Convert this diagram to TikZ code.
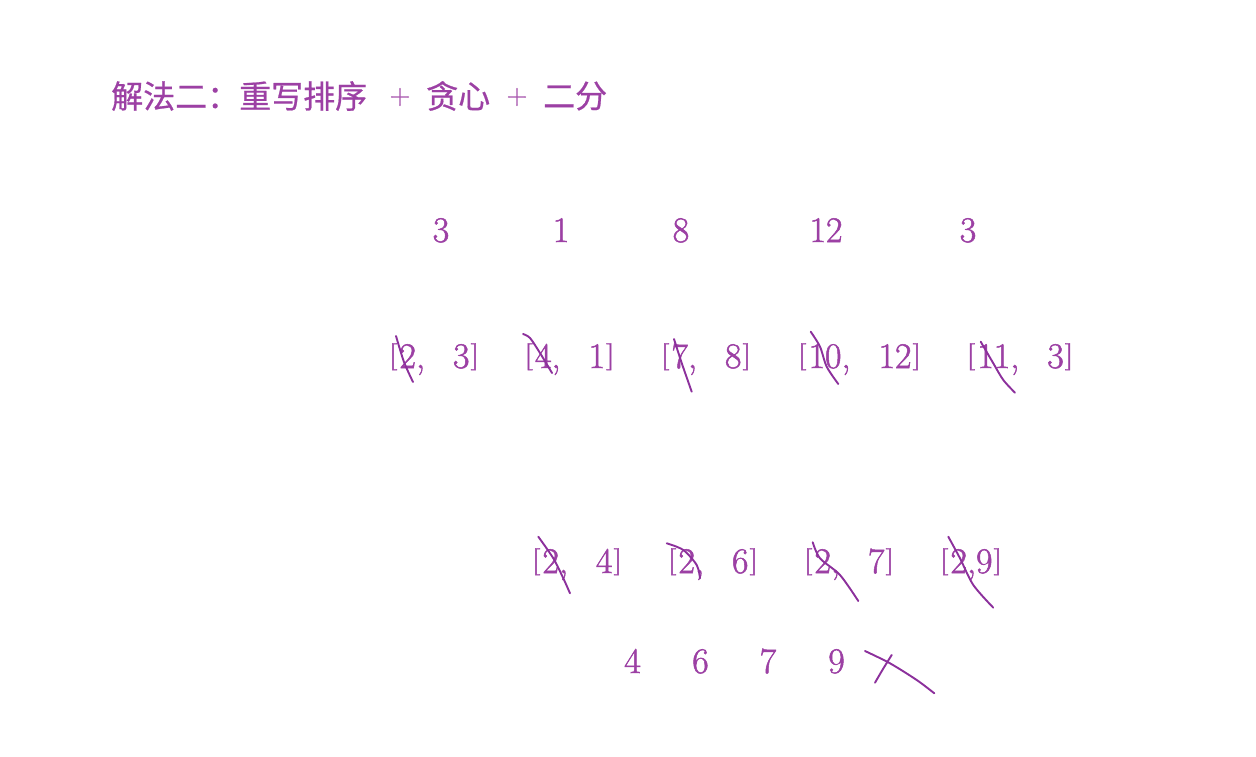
\documentclass[tikz,border=0pt]{standalone}
\usepackage{graphicx}
\usepackage{fontspec}
\newfontfamily\cjk[FakeBold=0.6]{Noto Sans CJK SC}
\newfontfamily\numf[FakeBold=1.4]{Latin Modern Roman}
\definecolor{txt}{RGB}{156,64,164}
\definecolor{inkc}{RGB}{140,48,156}
\newcommand\lbk{\raisebox{4.5pt}{\scalebox{1}[0.75]{[}}\hspace{2pt}}
\newcommand\rbk{\hspace{1pt}\raisebox{4.5pt}{\scalebox{1}[0.75]{]}}}
\newcommand\ivl[2]{\lbk#1,\hspace{28pt}#2\rbk}
\tikzset{
  num/.style={text=txt, font=\numf\fontsize{36}{40}\selectfont, inner sep=0pt, anchor=base},
  ttl/.style={text=txt, font=\cjk\fontsize{32}{36}\selectfont, inner sep=0pt, anchor=west},
  plus/.style={text=txt, font=\numf\fontsize{28}{32}\selectfont, inner sep=0pt},
  strike/.style={draw=inkc, line width=1.9pt, line cap=round, line join=round}
}
\begin{document}
\begin{tikzpicture}[x=1pt,y=-1pt]
\fill[white] (0,0) rectangle (1256,757);
\useasboundingbox (0,0) rectangle (1256,757);
% title
\node[ttl] (h1) at (111,96) {解法二：重写排序};
\node[plus] (p1) at (400,97) {+};
\node[ttl] (h2) at (426,96) {贪心};
\node[plus] (p2) at (517,97) {+};
\node[ttl] (h3) at (543,96) {二分};
% top row
\node[num] (t1) at (441,242) {3};
\node[num] (t2) at (561,242) {1};
\node[num] (t3) at (681,242) {8};
\node[num] (t4) at (826,242) {12};
\node[num] (t5) at (968,242) {3};
% intervals row
\node[num] (a1) at (434,368) {\ivl{2}{3}};
\node[num] (a2) at (569.5,368) {\ivl{4}{1}};
\node[num] (a3) at (706,368) {\ivl{7}{8}};
\node[num] (a4) at (859.5,368) {\ivl{10}{12}};
\node[num] (a5) at (1020,368) {\ivl{11}{3}};
% second intervals row
\node[num] (b1) at (577,573) {\ivl{2}{4}};
\node[num] (b2) at (713,573) {\ivl{2}{6}};
\node[num] (b3) at (849,573) {\ivl{2}{7}};
\node[num] (b4) at (971,573) {\lbk2,\hspace{0pt}9\rbk};
% bottom row
\node[num] (c1) at (632.5,673) {4};
\node[num] (c2) at (700.5,673) {6};
\node[num] (c3) at (768,673) {7};
\node[num] (c4) at (836.5,673) {9};
% hand strokes
\draw[strike] plot[smooth] coordinates {(396,336) (404,362) (413,382)};
\draw[strike] plot[smooth] coordinates {(523,334) (530,338) (540,353) (552,373)};
\draw[strike] plot[smooth] coordinates {(674,339) (681.7,363) (691.7,391.7)};
\draw[strike] plot[smooth] coordinates {(810.7,331.7) (820,346.7) (826.7,366.7) (838.3,384)};
\draw[strike] plot[smooth] coordinates {(980.7,341.7) (993.3,363.3) (1003.3,380) (1015,392.7)};
\draw[strike] plot[smooth] coordinates {(538.3,536.7) (553.3,558.3) (563.3,578.3) (570,593.3)};
\draw[strike] plot[smooth] coordinates {(666.7,543.3) (683.3,550) (696.7,565) (700,578.3)};
\draw[strike] plot[smooth] coordinates {(812.7,542.3) (820,558.3) (840,575) (858.3,601)};
\draw[strike] plot[smooth] coordinates {(948.3,536.7) (960,558.3) (973.3,585) (993.3,607.7)};
\draw[strike] plot[smooth] coordinates {(865,651) (890,663.3) (916.7,680) (934.3,693.3)};
\draw[strike] plot[smooth] coordinates {(891.7,655) (883,669) (875,682.7)};
\end{tikzpicture}
\end{document}
